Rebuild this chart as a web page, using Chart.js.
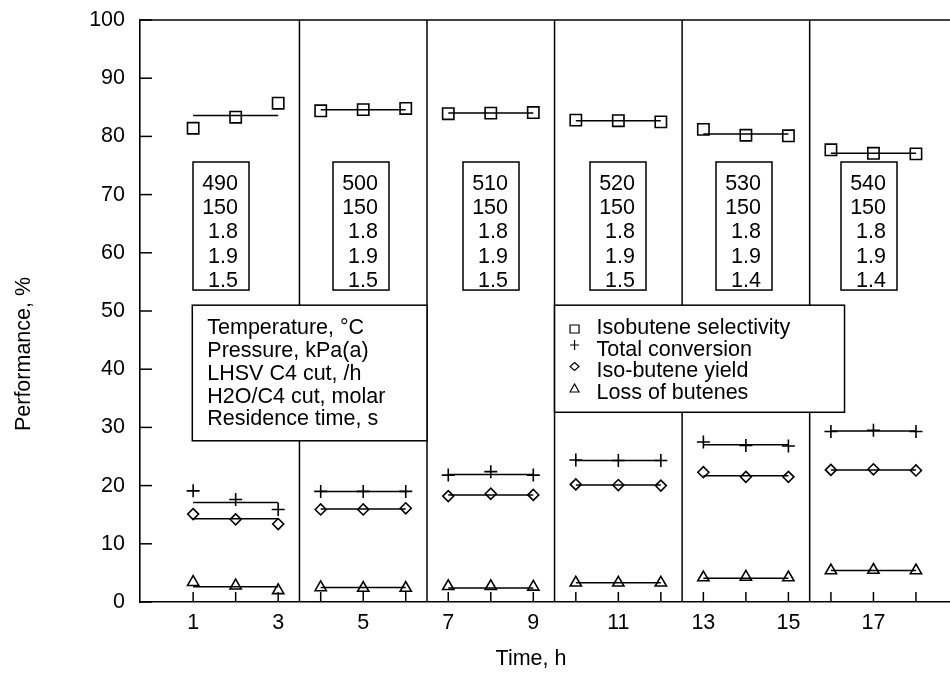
<!DOCTYPE html>
<html>
<head>
<meta charset="utf-8">
<script src="https://cdn.jsdelivr.net/npm/chart.js@4.4.0/dist/chart.umd.min.js"></script>
<style>
	html, body { margin: 0; padding: 0; background: #fff; overflow: hidden; }
	#wrap { width: 960px; height: 673px; }
</style>
</head>
<body>
<div id="wrap"><canvas id="perf"></canvas></div>
<script>
// time on stream, h
var hours = [1, 2, 3, 4, 5, 6, 7, 8, 9, 10, 11, 12, 13, 14, 15, 16, 17, 18];

// measured points, %
var selectivity = [81.4, 83.3, 85.7, 84.4, 84.6, 84.8, 83.9, 84.0, 84.1, 82.8, 82.7, 82.5, 81.2, 80.2, 80.1, 77.7, 77.1, 77.0];
var conversion = [19.1, 17.6, 15.9, 19.0, 19.0, 19.0, 21.8, 22.4, 21.8, 24.4, 24.3, 24.3, 27.5, 26.9, 26.8, 29.3, 29.5, 29.3];
var isoYield = [15.1, 14.2, 13.4, 15.9, 15.9, 16.1, 18.2, 18.6, 18.4, 20.2, 20.1, 20.0, 22.3, 21.5, 21.5, 22.7, 22.8, 22.6];
var butLoss = [3.4, 2.8, 2.0, 2.5, 2.4, 2.4, 2.7, 2.7, 2.6, 3.3, 3.3, 3.3, 4.2, 4.3, 4.2, 5.4, 5.5, 5.4];

// average level per run (one run = 3 h)
var groupStart = [1, 4, 7, 10, 13, 16];
var groupEnd = [3, 6, 9, 12, 15, 18];
var selFit = [83.6, 84.6, 84.0, 82.7, 80.4, 77.1];
var convFit = [17.1, 19.0, 21.9, 24.3, 27.0, 29.4];
var yieldFit = [14.3, 16.0, 18.4, 20.1, 21.7, 22.7];
var lossFit = [2.6, 2.5, 2.4, 3.3, 4.1, 5.4];

// run conditions
var temperature = [490, 500, 510, 520, 530, 540];
var pressure = [150, 150, 150, 150, 150, 150];
var lhsv = [1.8, 1.8, 1.8, 1.8, 1.8, 1.8];
var waterRatio = [1.9, 1.9, 1.9, 1.9, 1.9, 1.9];
var residence = [1.5, 1.5, 1.5, 1.5, 1.4, 1.4];

var condLabels = ['Temperature, \u00b0C', 'Pressure, kPa(a)', 'LHSV C4 cut, /h', 'H2O/C4 cut, molar', 'Residence time, s'];
var seriesLabels = ['Isobutene selectivity', 'Total conversion', 'Iso-butene yield', 'Loss of butenes'];

var yTicks = [0, 10, 20, 30, 40, 50, 60, 70, 80, 90, 100];
var runBounds = [3.5, 6.5, 9.5, 12.5, 15.5];

var FONT = '"Liberation Sans", Arial, sans-serif';
var FSIZE = 21.5;

function pts(vals) {
	return hours.map(function (h, i) { return { x: h, y: vals[i] }; });
}

function fitSegments(levels) {
	var out = [];
	levels.forEach(function (lvl, i) {
		out.push({ x: groupStart[i], y: lvl }, { x: groupEnd[i], y: lvl }, { x: groupEnd[i] + 0.5, y: null });
	});
	return out;
}

function markerSet(label, vals, style, radius) {
	return {
		label: label,
		data: pts(vals),
		showLine: false,
		pointStyle: style,
		pointRadius: radius,
		pointHoverRadius: radius,
		pointBorderWidth: 1.6,
		pointBorderColor: '#000',
		pointBackgroundColor: 'rgba(0,0,0,0)'
	};
}

function fitSet(levels) {
	return {
		data: fitSegments(levels),
		borderColor: '#000',
		borderWidth: 1.5,
		pointRadius: 0,
		spanGaps: false,
		fill: false
	};
}

function line(ctx, x1, y1, x2, y2) {
	ctx.beginPath();
	ctx.moveTo(x1, y1);
	ctx.lineTo(x2, y2);
	ctx.stroke();
}

function box(ctx, l, t, r, b) {
	ctx.fillStyle = '#fff';
	ctx.fillRect(l, t, r - l, b - t);
	ctx.strokeRect(l, t, r - l, b - t);
}

// small legend glyphs
function glyph(ctx, kind, cx, cy) {
	ctx.beginPath();
	if (kind === 0) {
		ctx.rect(cx - 4.5, cy - 4, 9, 8);
	} else if (kind === 1) {
		ctx.moveTo(cx - 4.5, cy); ctx.lineTo(cx + 4.5, cy);
		ctx.moveTo(cx, cy - 5); ctx.lineTo(cx, cy + 5);
	} else if (kind === 2) {
		ctx.moveTo(cx, cy - 4); ctx.lineTo(cx + 4.5, cy); ctx.lineTo(cx, cy + 4); ctx.lineTo(cx - 4.5, cy); ctx.closePath();
	} else {
		ctx.moveTo(cx, cy - 4.5); ctx.lineTo(cx + 4.5, cy + 3.5); ctx.lineTo(cx - 4.5, cy + 3.5); ctx.closePath();
	}
	ctx.stroke();
}

// condition boxes, in data units
var condBoxX = [1.65, 4.95, 8.0, 11.0, 13.95, 16.9];
var condBoxTop = 75.6, condBoxBottom = 53.6, condBoxW = 56;

var framePlugin = {
	id: 'frame',
	beforeDatasetsDraw: function (chart) {
		var ctx = chart.ctx, a = chart.chartArea, x = chart.scales.x, y = chart.scales.y;
		ctx.save();
		ctx.strokeStyle = '#000';
		ctx.lineWidth = 1.5;
		line(ctx, a.left, a.top, a.right, a.top);
		runBounds.forEach(function (v) {
			var px = x.getPixelForValue(v);
			line(ctx, px, a.top, px, a.bottom);
		});
		// ticks point into the plot
		hours.forEach(function (h) {
			var px = x.getPixelForValue(h);
			line(ctx, px, a.bottom, px, a.bottom - 10);
		});
		yTicks.forEach(function (v) {
			var py = y.getPixelForValue(v);
			line(ctx, a.left, py, a.left + 12, py);
		});
		ctx.restore();
	},
	afterDatasetsDraw: function (chart) {
		var ctx = chart.ctx, x = chart.scales.x, y = chart.scales.y;
		ctx.save();
		ctx.strokeStyle = '#000';
		ctx.lineWidth = 1.5;
		ctx.font = FSIZE + 'px ' + FONT;
		ctx.textBaseline = 'alphabetic';

		// per-run conditions
		condBoxX.forEach(function (cx, i) {
			var mid = x.getPixelForValue(cx);
			var l = Math.round(mid - condBoxW / 2), r = l + condBoxW;
			var t = y.getPixelForValue(condBoxTop), b = y.getPixelForValue(condBoxBottom);
			box(ctx, l, t, r, b);
			ctx.fillStyle = '#000';
			ctx.textAlign = 'right';
			var rows = [temperature[i], pressure[i], lhsv[i].toFixed(1), waterRatio[i].toFixed(1), residence[i].toFixed(1)];
			rows.forEach(function (s, k) {
				ctx.fillText(String(s), r - 11, t + 28 + k * 24.2);
			});
		});

		// key for the condition rows
		var kl = x.getPixelForValue(0.98), kr = x.getPixelForValue(6.5);
		var kt = y.getPixelForValue(51.0), kb = y.getPixelForValue(27.7);
		box(ctx, kl, kt, kr, kb);
		ctx.fillStyle = '#000';
		ctx.textAlign = 'left';
		condLabels.forEach(function (s, k) {
			ctx.fillText(s, kl + 15, kt + 29 + k * 22.8);
		});

		// series legend
		var ll = x.getPixelForValue(9.5), lr = x.getPixelForValue(16.32);
		var lt = y.getPixelForValue(51.0), lb = y.getPixelForValue(32.6);
		box(ctx, ll, lt, lr, lb);
		ctx.fillStyle = '#000';
		var glyphY = [329, 345, 366.5, 388.5];
		seriesLabels.forEach(function (s, k) {
			ctx.fillText(s, ll + 42, lt + 29 + k * 21.6);
			ctx.lineWidth = 1.2;
			glyph(ctx, k, ll + 20, glyphY[k]);
		});

		// axis titles
		ctx.textAlign = 'center';
		ctx.fillText('Time, h', 531, 665);
		ctx.translate(30, 354);
		ctx.rotate(-Math.PI / 2);
		ctx.fillText('Performance, %', 0, 0);
		ctx.restore();
	}
};

var ctxL = document.getElementById('perf').getContext('2d');
var perfChart = new Chart(ctxL, {
	type: 'line',
	data: {
		datasets: [
			fitSet(selFit),
			fitSet(convFit),
			fitSet(yieldFit),
			fitSet(lossFit),
			markerSet(seriesLabels[0], selectivity, 'rect', 8),
			markerSet(seriesLabels[1], conversion, 'cross', 6.5),
			markerSet(seriesLabels[2], isoYield, 'rectRot', 5.5),
			markerSet(seriesLabels[3], butLoss, 'triangle', 6.5)
		]
	},
	options: {
		responsive: true,
		maintainAspectRatio: false,
		animation: false,
		devicePixelRatio: 1,
		layout: { padding: { top: 20, left: 0, right: 0, bottom: 0 } },
		plugins: {
			legend: { display: false },
			tooltip: { enabled: false }
		},
		scales: {
			x: {
				type: 'linear',
				min: -0.25,
				max: 18.81,
				afterBuildTicks: function (s) {
					s.ticks = hours.map(function (h) { return { value: h }; });
				},
				afterFit: function (s) { s.height = 71; },
				ticks: {
					autoSkip: false,
					maxRotation: 0,
					padding: 8,
					color: '#000',
					font: { family: FONT, size: FSIZE },
					callback: function (v) { return v % 2 ? String(v) : ''; }
				},
				grid: { display: false, drawTicks: false },
				border: { color: '#000', width: 1.6 }
			},
			y: {
				min: 0,
				max: 100,
				afterFit: function (s) {
					s.width = 140;
					s.paddingTop = 0;
					s.paddingBottom = 0;
				},
				ticks: {
					stepSize: 10,
					padding: 15,
					color: '#000',
					font: { family: FONT, size: FSIZE, lineHeight: 0.6 }
				},
				grid: { display: false, drawTicks: false },
				border: { color: '#000', width: 1.6 }
			}
		}
	},
	plugins: [framePlugin]
});
</script>
</body>
</html>
